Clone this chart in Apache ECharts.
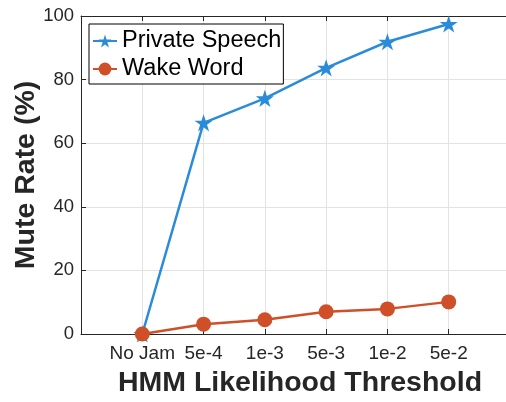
<!DOCTYPE html>
<html>
<head>
<meta charset="utf-8">
<script src="https://cdn.jsdelivr.net/npm/echarts@6/dist/echarts.min.js"></script>
<style>
  html, body { margin: 0; padding: 0; background: #fff; }
  #chart { width: 506px; height: 402px; }
</style>
</head>
<body>
<div id="chart"></div>
<script>
// Jamming thresholds on the x axis
const categories = ['No Jam', '5e-4', '1e-3', '5e-3', '1e-2', '5e-2'];
// Mute rate (%) per threshold
const privateSpeech = [0, 66.4, 74.1, 83.7, 91.9, 97.5];
const wakeWord = [0, 3.1, 4.5, 7.0, 7.9, 10.1];
const yTicks = [0, 20, 40, 60, 80, 100];

const BLUE = '#2a8cd8';
const RED = '#cf4f29';
const AXIS = '#262626';
const FONT = '"Liberation Sans", Arial, Helvetica, sans-serif';

// five-pointed star marker
const STAR = 'path://M0,-10 L2.245,-3.09 L9.51,-3.09 L3.633,1.18 L5.88,8.09 L0,3.82 L-5.88,8.09 L-3.633,1.18 L-9.51,-3.09 L-2.245,-3.09 Z';

const toPoints = vals => vals.map((v, i) => [i + 1, v]);

const chart = echarts.init(document.getElementById('chart'), null, { renderer: 'canvas' });

chart.setOption({
  backgroundColor: '#fff',
  animation: false,
  // the plot box runs a little past the right edge of the canvas
  grid: { left: 81, width: 429, top: 16, bottom: 68, containLabel: false, outerBoundsMode: 'none' },
  legend: {
    orient: 'vertical',
    left: 89, top: 24,
    padding: [4, 2, 2, 3],
    itemGap: 2,
    itemWidth: 24,
    itemHeight: 16,
    backgroundColor: '#fff',
    borderColor: '#000',
    borderWidth: 1,
    borderRadius: 0,
    textStyle: { fontFamily: FONT, fontSize: 23.5, color: '#000', lineHeight: 26 },
    data: ['Private Speech', 'Wake Word']
  },
  xAxis: [{
    type: 'value',
    min: 0, max: categories.length + 1, interval: 1,
    name: 'HMM Likelihood Threshold',
    nameLocation: 'middle',
    nameGap: 35,
    nameMoveOverlap: false,
    nameTextStyle: { fontFamily: FONT, fontSize: 28.5, fontWeight: 'bold', color: AXIS, padding: [0, 0, 0, 9] },
    axisLine: { lineStyle: { color: AXIS, width: 1 } },
    axisTick: { inside: true, length: 5, lineStyle: { color: AXIS } },
    axisLabel: {
      fontFamily: FONT, fontSize: 19, color: AXIS, margin: 10,
      formatter: v => categories[v - 1] || ''
    },
    splitLine: { show: true, lineStyle: { color: '#e3e3e3', width: 1 } }
  }, {
    type: 'value',
    position: 'top',
    min: 0, max: categories.length + 1, interval: 1,
    axisLine: { show: true, lineStyle: { color: AXIS, width: 1 } },
    axisTick: { inside: true, length: 5, lineStyle: { color: AXIS } },
    axisLabel: { show: false },
    splitLine: { show: false }
  }],
  yAxis: {
    type: 'value',
    min: yTicks[0], max: yTicks[yTicks.length - 1], interval: 20,
    name: 'Mute Rate (%)',
    nameLocation: 'middle',
    nameRotate: 90,
    nameGap: 40,
    nameMoveOverlap: false,
    nameTextStyle: { fontFamily: FONT, fontSize: 28.5, fontWeight: 'bold', color: AXIS },
    axisLine: { show: true, lineStyle: { color: AXIS, width: 1 } },
    axisTick: { show: true, inside: true, length: 5, lineStyle: { color: AXIS } },
    axisLabel: { fontFamily: FONT, fontSize: 18.5, color: AXIS, margin: 7 },
    splitLine: { show: true, lineStyle: { color: '#e3e3e3', width: 1 } }
  },
  series: [{
    name: 'Private Speech',
    type: 'line',
    xAxisIndex: 0,
    data: toPoints(privateSpeech),
    symbol: STAR,
    symbolSize: 18,
    symbolKeepAspect: true,
    lineStyle: { color: BLUE, width: 2.5 },
    itemStyle: { color: BLUE },
    z: 3
  }, {
    name: 'Wake Word',
    type: 'line',
    xAxisIndex: 0,
    data: toPoints(wakeWord),
    symbol: 'circle',
    symbolSize: 15,
    lineStyle: { color: RED, width: 2.5 },
    itemStyle: { color: RED },
    z: 4
  }]
});
</script>
</body>
</html>
